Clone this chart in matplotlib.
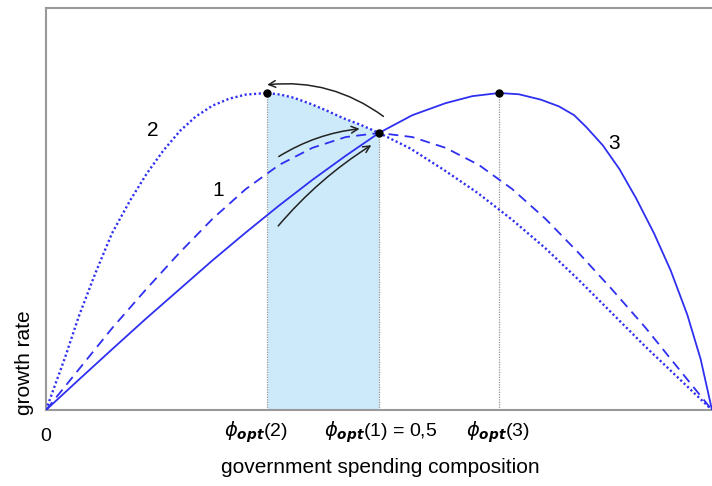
import matplotlib
matplotlib.use("Agg")
import matplotlib.pyplot as plt
from matplotlib.patches import FancyArrowPatch

plt.rcParams['font.family'] = ['Liberation Sans', 'DejaVu Sans']
plt.rcParams['mathtext.fontset'] = 'dejavusans'

# === DATA (peak growth = 1) ===
phi_1 = [0, 0.05, 0.1, 0.15, 0.2, 0.25, 0.3, 0.35, 0.4, 0.45, 0.5,
         0.55, 0.6, 0.65, 0.7, 0.75, 0.8, 0.85, 0.9, 0.95, 1.0]
growth_1 = [0, 0.13, 0.26, 0.38, 0.495, 0.603, 0.697, 0.773, 0.827, 0.861, 0.874,
            0.861, 0.827, 0.773, 0.697, 0.603, 0.495, 0.38, 0.26, 0.13, 0]

phi_2 = [0, 0.029, 0.049, 0.074, 0.099, 0.126, 0.151, 0.176, 0.201, 0.225, 0.25, 0.275,
         0.3, 0.332, 0.352, 0.372, 0.397, 0.422, 0.447, 0.472, 0.5, 0.547, 0.597, 0.648,
         0.7, 0.75, 0.8, 0.85, 0.9, 0.95, 1.0]
growth_2 = [0, 0.168, 0.294, 0.431, 0.557, 0.66, 0.745, 0.818, 0.88, 0.926, 0.96, 0.982,
            0.995, 1.0, 0.995, 0.985, 0.966, 0.944, 0.92, 0.9, 0.874, 0.825, 0.758, 0.685,
            0.6, 0.51, 0.41, 0.305, 0.2, 0.1, 0]

phi_3 = [0, 0.05, 0.1, 0.15, 0.2, 0.25, 0.3, 0.35, 0.4, 0.45, 0.5, 0.55, 0.6, 0.64, 0.68,
         0.71, 0.743, 0.77, 0.793, 0.811, 0.836, 0.861, 0.886, 0.913, 0.938, 0.963,
         0.983, 1.0]
growth_3 = [0, 0.097, 0.193, 0.288, 0.38, 0.472, 0.56, 0.645, 0.726, 0.802, 0.874, 0.93,
            0.968, 0.99, 1.0, 0.996, 0.979, 0.958, 0.93, 0.893, 0.835, 0.76, 0.668, 0.557,
            0.44, 0.3, 0.16, 0]

opt_phi = [0.332, 0.5, 0.68]
opt_growth = [1.0, 0.874, 1.0]
opt_labels = [r'$\phi_{\mathbfit{opt}}$(2)', r'$\phi_{\mathbfit{opt}}$(1) = 0,5',
              r'$\phi_{\mathbfit{opt}}$(3)']
label_offsets = [-0.017, 0.002, -0.002]

curve_names = ['1', '2', '3']
curve_name_pos = [(0.259, 0.694), (0.161, 0.883), (0.853, 0.842)]

line_color = '#2f2ff2'

fig = plt.figure(figsize=(7.12, 4.86), dpi=100)
ax = fig.add_axes([46 / 712, 76 / 486, 666 / 712, 402 / 486])

# === SHADED BAND BETWEEN phi_opt(2) AND phi_opt(1) ===
band_x = [p for p in phi_2 if opt_phi[0] <= p <= opt_phi[1]]
band_y = [g for p, g in zip(phi_2, growth_2) if opt_phi[0] <= p <= opt_phi[1]]
ax.fill_between(band_x, 0, band_y, color='#cdeafa', lw=0, zorder=1)

# === CURVES ===
ax.plot(phi_1, growth_1, color=line_color, lw=1.3, ls=(0, (5.5, 3.5)), zorder=3)
ax.plot(phi_2, growth_2, color=line_color, lw=1.7, ls=(0, (0.9, 1.1)), zorder=3)
ax.plot(phi_3, growth_3, color=line_color, lw=1.3, zorder=3)

for p, g in zip(opt_phi, opt_growth):
    ax.plot([p, p], [0, g], color='#999999', lw=0.9, ls=(0, (1, 1)), zorder=2)
ax.plot(opt_phi, opt_growth, 'o', color='black', ms=5, zorder=5)

for name, (px, py) in zip(curve_names, curve_name_pos):
    ax.text(px, py, name, fontsize=15, ha='center', va='center')

# === ARROWS ===
arrows = [((0.51, 0.921), (0.328, 1.025), 0.2),
          ((0.346, 0.795), (0.475, 0.888), -0.12),
          ((0.346, 0.574), (0.492, 0.84), -0.08)]
for start, end, rad in arrows:
    ax.add_patch(FancyArrowPatch(start, end, arrowstyle='->', mutation_scale=12,
                                 connectionstyle=f'arc3,rad={rad}', color='#222222',
                                 lw=1.1, zorder=4))

# === AXES ===
ax.set_xlim(0, 1)
ax.set_ylim(0, 402 / 317)
ax.set_xticks([])
ax.set_yticks([])
ax.spines['right'].set_visible(False)
for side in ['left', 'top', 'bottom']:
    ax.spines[side].set_color('#999999')
    ax.spines[side].set_linewidth(1.5)

# === AXIS LABELS ===
xt = ax.get_xaxis_transform()
ax.text(0, -0.067, '0', transform=xt, fontsize=14, ha='center', va='center')
for p, lab, off in zip(opt_phi, opt_labels, label_offsets):
    ax.text(p + off, -0.055, lab, transform=xt, fontsize=14, ha='center', va='center')
fig.text(380 / 712, 1 - 467 / 486, 'government spending composition', fontsize=15,
         ha='center', va='center')
fig.text(25 / 712, 1 - 415 / 486, 'growth rate', fontsize=15, rotation=90,
         ha='center', va='bottom')

plt.savefig('out.png', dpi=100)
